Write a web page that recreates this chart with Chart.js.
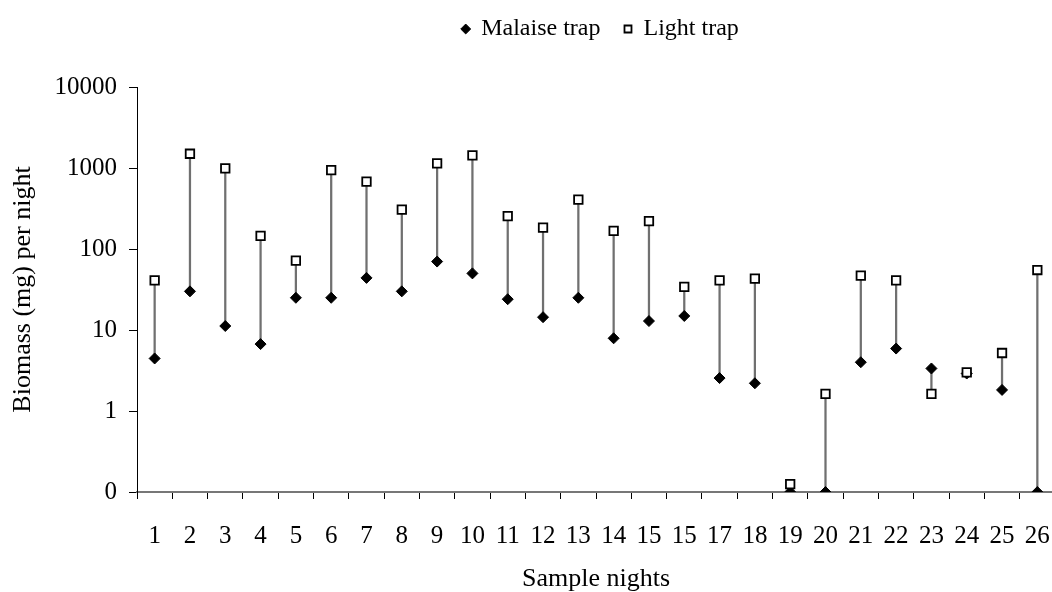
<!DOCTYPE html>
<html>
<head>
<meta charset="utf-8">
<script src="https://cdn.jsdelivr.net/npm/chart.js@4.4.1/dist/chart.umd.min.js"></script>
<style>
  html, body { margin: 0; padding: 0; background: #fff; overflow: hidden; }
  #wrap { width: 1055px; height: 592px; }
</style>
</head>
<body>
<div id="wrap"><canvas id="biomass-chart"></canvas></div>
<script>
// Sample night labels (the source repeats "15")
const nights = ['1','2','3','4','5','6','7','8','9','10','11','12','13','14','15','15','17','18','19','20','21','22','23','24','25','26'];

// Biomass (mg) per night
const malaiseTrap = [4.45, 30, 11.2, 6.7, 25, 25, 44, 30, 70, 50, 24, 14.4, 25, 7.9, 12.9, 14.9, 2.55, 2.2, 0, 0, 4.0, 5.9, 3.35, 2.9, 1.82, 0];
const lightTrap = [41, 1500, 990, 145, 72, 940, 680, 306, 1140, 1430, 255, 184, 406, 167, 221, 34, 41, 43, 0.125, 1.63, 47, 41, 1.63, 3.0, 5.2, 55];

// Log axis: the floor stands in for zero
const yTickValues = [0.1, 1, 10, 100, 1000, 10000];
const yTickLabels = ['0', '1', '10', '100', '1000', '10000'];

const FONT = "'Liberation Serif', 'Times New Roman', serif";
const floorOf = v => (v <= 0 ? yTickValues[0] : v);

/**
 * Render malaise vs light trap biomass chart
 */
function renderBiomassChart() {
  const canvas = document.getElementById('biomass-chart');
  if (!canvas || typeof Chart === 'undefined') return;

  const malaise = malaiseTrap.map(floorOf);
  const light = lightTrap.map(floorOf);
  const ranges = malaise.map((m, i) => [Math.min(m, light[i]), Math.max(m, light[i])]);

  // legend sits right of centre and close to the top in the original
  const legendShift = {
    id: 'legendShift',
    afterUpdate(chart) {
      const lg = chart.legend;
      if (!lg) return;
      lg.left += 73;
      lg.right += 73;
      lg.top -= 36;
      lg.bottom -= 36;
    }
  };

  new Chart(canvas.getContext('2d'), {
    type: 'bar',
    data: {
      labels: nights,
      datasets: [
        {
          type: 'line',
          label: 'Light trap',
          data: light,
          showLine: false,
          pointStyle: 'rect',
          pointRadius: 6,
          pointBorderWidth: 1.8,
          backgroundColor: '#ffffff',
          borderColor: '#000000',
          order: 0
        },
        {
          type: 'line',
          label: 'Malaise trap',
          data: malaise,
          showLine: false,
          pointStyle: 'rectRot',
          pointRadius: 5.5,
          pointBorderWidth: 1,
          backgroundColor: '#000000',
          borderColor: '#000000',
          order: 1
        },
        {
          type: 'bar',
          label: 'range',
          data: ranges,
          backgroundColor: '#707070',
          borderWidth: 0,
          barThickness: 1.6,
          order: 2
        }
      ]
    },
    options: {
      responsive: true,
      maintainAspectRatio: false,
      animation: false,
      layout: { autoPadding: false, padding: { top: 29, left: 0, right: 0, bottom: 0 } },
      plugins: {
        tooltip: { enabled: false },
        legend: {
          position: 'top',
          reverse: true,
          labels: {
            font: { family: FONT, size: 24 },
            color: '#000',
            usePointStyle: true,
            boxWidth: 7,
            boxHeight: 7,
            padding: 24,
            filter: item => item.text !== 'range'
          }
        }
      },
      scales: {
        x: {
          offset: true,
          afterFit: scale => {
            scale.height = 100;
            scale.paddingLeft = 0;
            scale.paddingRight = 0;
          },
          grid: {
            offset: true,
            drawOnChartArea: false,
            drawTicks: true,
            tickLength: 7,
            color: '#000'
          },
          border: { color: '#777', width: 2 },
          ticks: {
            font: { family: FONT, size: 25 },
            color: '#000',
            padding: 22,
            maxRotation: 0,
            autoSkip: false
          },
          title: {
            display: true,
            text: 'Sample nights',
            font: { family: FONT, size: 26 },
            color: '#000',
            padding: { top: 0, bottom: -3 }
          }
        },
        y: {
          type: 'logarithmic',
          min: yTickValues[0],
          max: yTickValues[yTickValues.length - 1],
          afterBuildTicks: scale => {
            scale.ticks = yTickValues.map(v => ({ value: v }));
          },
          afterFit: scale => { scale.width = 137; },
          grid: {
            drawOnChartArea: false,
            drawTicks: true,
            tickLength: 8,
            color: '#000'
          },
          border: { color: '#000', width: 1 },
          ticks: {
            font: { family: FONT, size: 25 },
            color: '#000',
            padding: 12,
            callback: value => yTickLabels[yTickValues.indexOf(value)] ?? ''
          },
          title: {
            display: true,
            text: 'Biomass (mg) per night',
            font: { family: FONT, size: 26 },
            color: '#000',
            padding: { top: 8, bottom: 0 }
          }
        }
      }
    },
    plugins: [legendShift]
  });
}

renderBiomassChart();
</script>
</body>
</html>
